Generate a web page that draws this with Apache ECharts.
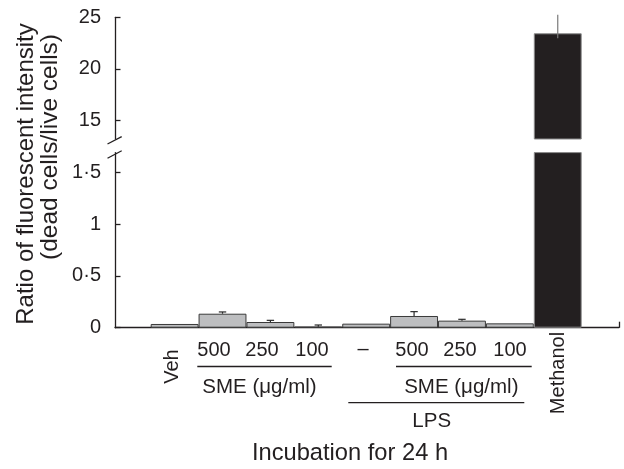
<!DOCTYPE html>
<html><head><meta charset="utf-8">
<script src="https://cdn.jsdelivr.net/npm/echarts@6/dist/echarts.min.js"></script>
<style>html,body{margin:0;padding:0;background:#fff}#c{width:624px;height:469px}</style>
</head><body><div id="c"></div>
<script>
// ---- data ----
const categories = ['Veh', '500', '250', '100', '\u2013', '500', '250', '100', 'Methanol'];
const values = [0.036, 0.135, 0.055, 0.010, 0.039, 0.113, 0.068, 0.042, 23.45];
const errors = [0, 0.017, 0.016, 0.016, 0, 0.042, 0.013, 0, 1.8];
const lowerTicks = [0, 0.5, 1, 1.5];
const upperTicks = [15, 20, 25];
const groupLabels = ['SME (\u03bcg/ml)', 'SME (\u03bcg/ml)', 'LPS'];
const xTitle = 'Incubation for 24 h';
const yTitle = ['Ratio of fluorescent intensity', '(dead cells/live cells)'];

// ---- layout / style ----
const FONT = "'Liberation Sans', Arial, Helvetica, sans-serif";
const INK = '#231f20';
const lowerMin = 0, lowerMax = 1.69, upperMin = 13.2, upperMax = 25;
const xMin = -1.245, xMax = 9.279;
const gridLeft = 115, gridRight = 5;
const slotPx = (624 - gridLeft - gridRight) / (xMax - xMin);

const chart = echarts.init(document.getElementById('c'), null, {renderer: 'canvas'});

function barItem(i) {
  const black = i === 8;
  return {
    value: [i, values[i]],
    itemStyle: {
      color: black ? INK : '#bdbec0',
      borderColor: black ? '#8a8a8a' : '#3a3a3a',
      borderWidth: 1
    }
  };
}
const idx = values.map((v, i) => i);
const upperBars = idx.filter(i => values[i] > upperMin).map(barItem);
const lowerBars = idx.map(barItem);
const lowerErr = idx.filter(i => errors[i] > 0 && values[i] + errors[i] < lowerMax).map(i => [i, values[i], errors[i]]);
const upperErr = idx.filter(i => errors[i] > 0 && values[i] > upperMin).map(i => [i, values[i], errors[i]]);

function errRender(capped, color, extend) {
  return function (params, api) {
    const x = api.value(0), v = api.value(1), e = api.value(2);
    const p0 = api.coord([x, v]);
    const p1 = api.coord([x, v + e]);
    const children = [{
      type: 'line',
      shape: {x1: p0[0], y1: p0[1] + extend, x2: p1[0], y2: p1[1]},
      style: {stroke: color, lineWidth: 1.2}
    }];
    if (capped) {
      children.push({
        type: 'line',
        shape: {x1: p1[0] - 3.7, y1: p1[1], x2: p1[0] + 3.7, y2: p1[1]},
        style: {stroke: color, lineWidth: 1.2}
      });
    }
    return {type: 'group', children: children};
  };
}

const yAxisCommon = {
  type: 'value',
  axisLine: {show: true, onZero: false, lineStyle: {color: INK, width: 1.3}},
  axisTick: {show: true, inside: true, length: 5.5, lineStyle: {color: INK, width: 1.3}},
  splitLine: {show: false},
  axisLabel: {color: INK, fontSize: 20, fontFamily: FONT, margin: 14}
};

function txt(text, x, y, size, rot) {
  return {
    type: 'text', x: x, y: y, rotation: rot || 0, silent: true,
    style: {text: text, fill: INK, font: size + 'px ' + FONT, align: 'center', verticalAlign: 'middle'}
  };
}
function hline(x1, x2, y) {
  return {type: 'line', silent: true, shape: {x1: x1, y1: y, x2: x2, y2: y}, style: {stroke: INK, lineWidth: 1.3}};
}
function slash(x1, y1, x2, y2) {
  return {type: 'line', silent: true, shape: {x1: x1, y1: y1, x2: x2, y2: y2}, style: {stroke: INK, lineWidth: 1.3}};
}

const option = {
  animation: false,
  backgroundColor: '#fff',
  grid: [
    {left: gridLeft, right: gridRight, top: 17.3, height: 121.7},
    {left: gridLeft, right: gridRight, top: 152.6, height: 175.1}
  ],
  xAxis: [
    {type: 'value', gridIndex: 0, min: xMin, max: xMax, show: false},
    {type: 'value', gridIndex: 1, min: xMin, max: xMax,
      axisLine: {show: true, onZero: false, lineStyle: {color: INK, width: 1.3}},
      axisTick: {show: true, inside: true, length: 6, customValues: [xMax], lineStyle: {color: INK, width: 1.3}},
      axisLabel: {show: false}, splitLine: {show: false}}
  ],
  yAxis: [
    Object.assign({}, yAxisCommon, {gridIndex: 0, min: upperMin, max: upperMax,
      axisTick: Object.assign({}, yAxisCommon.axisTick, {customValues: upperTicks}),
      axisLabel: Object.assign({}, yAxisCommon.axisLabel, {customValues: upperTicks})}),
    Object.assign({}, yAxisCommon, {gridIndex: 1, min: lowerMin, max: lowerMax,
      axisTick: Object.assign({}, yAxisCommon.axisTick, {customValues: lowerTicks}),
      axisLabel: Object.assign({}, yAxisCommon.axisLabel, {customValues: lowerTicks,
        formatter: v => String(v).replace('.', '\u00b7')})})
  ],
  series: [
    {type: 'bar', xAxisIndex: 0, yAxisIndex: 0, data: upperBars, barWidth: slotPx, clip: true},
    {type: 'bar', xAxisIndex: 1, yAxisIndex: 1, data: lowerBars, barWidth: slotPx, clip: true},
    {type: 'custom', xAxisIndex: 1, yAxisIndex: 1, data: lowerErr, renderItem: errRender(true, '#2a2a2a', 0), z: 5},
    {type: 'custom', xAxisIndex: 0, yAxisIndex: 0, data: upperErr, renderItem: errRender(false, '#7a7a7a', 5), z: 5}
  ],
  graphic: [
    // y-axis break marks
    slash(107.5, 144, 121.7, 136.7),
    slash(107.5, 158.3, 121.7, 150.7),
    // category labels
    txt(categories[0], 172, 366.5, 20, Math.PI / 2),
    txt(categories[1], 214, 350, 20),
    txt(categories[2], 262, 350, 20),
    txt(categories[3], 312, 350, 20),
    txt(categories[4], 363, 349, 20),
    txt(categories[5], 412, 350, 20),
    txt(categories[6], 460, 350, 20),
    txt(categories[7], 510, 350, 20),
    txt(categories[8], 558, 373, 20, Math.PI / 2),
    // group lines and labels
    hline(197.3, 331.7, 366.5),
    hline(396, 531.7, 366.5),
    txt(groupLabels[0], 259.5, 387, 20.5),
    txt(groupLabels[1], 461.3, 387, 20.5),
    hline(348.3, 524.3, 402.7),
    txt(groupLabels[2], 431.7, 421.5, 20.5),
    // axis titles
    txt(xTitle, 350, 453, 23.7),
    txt(yTitle[0], 26, 174, 24, Math.PI / 2),
    txt(yTitle[1], 50.5, 147, 24.5, Math.PI / 2)
  ]
};
chart.setOption(option);
</script>
</body></html>
